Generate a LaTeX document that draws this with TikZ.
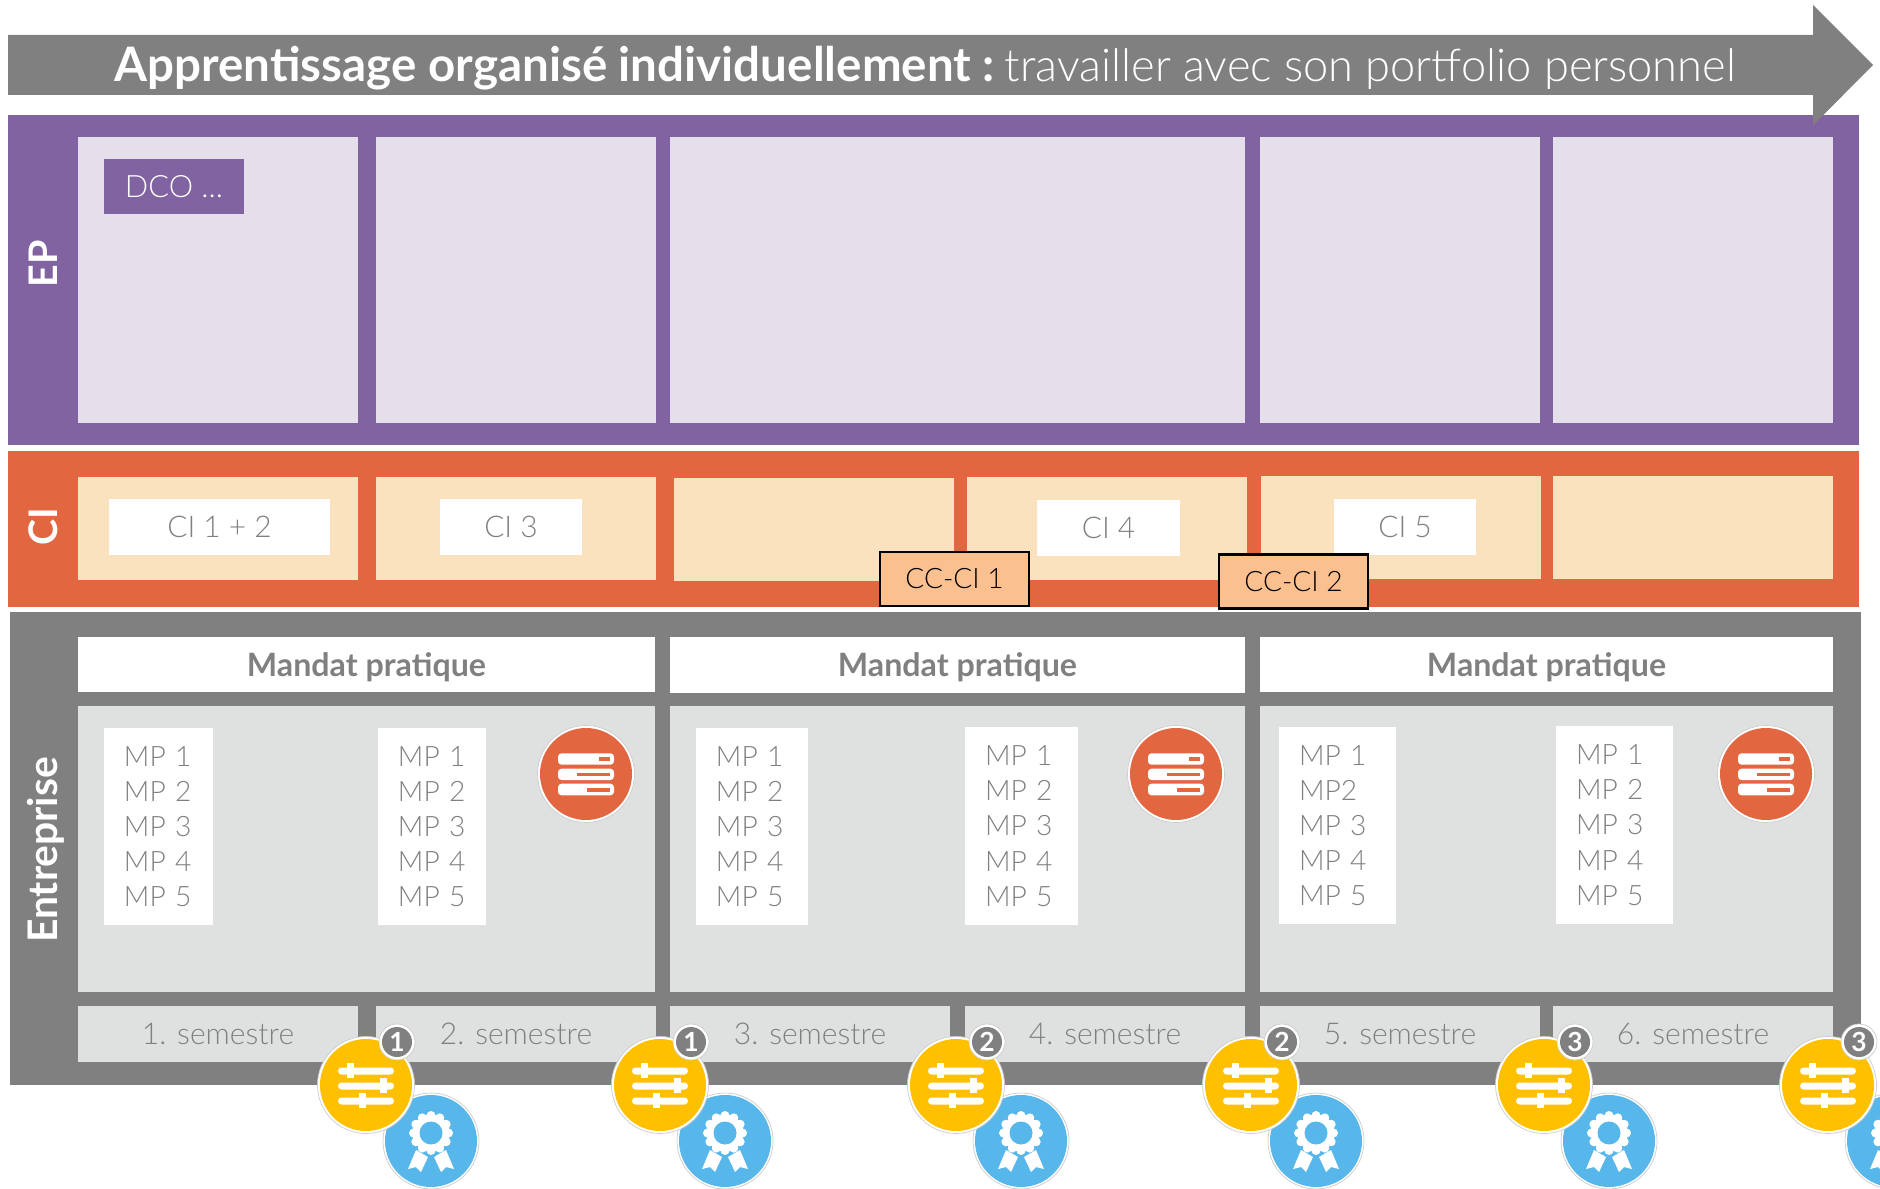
\documentclass[tikz,border=0pt]{standalone}
\usepackage{fontspec}
\setmainfont{Lato}[UprightFont={* Light},BoldFont={* Bold}]
\definecolor{greyband}{HTML}{808080}
\definecolor{greycell}{HTML}{DFE1E1}
\definecolor{purpleband}{HTML}{8063A0}
\definecolor{purplecell}{HTML}{E5DFEC}
\definecolor{orangeband}{HTML}{E26740}
\definecolor{orangecell}{HTML}{FAE2BF}
\definecolor{cccell}{HTML}{FBC08F}
\definecolor{yellowdisc}{HTML}{FFC000}
\definecolor{bluedisc}{HTML}{58B7EA}
\tikzset{
    boxlabel/.style={inner sep=0pt, text=greyband, font=\fontsize{8}{10}\selectfont},
    cilabel/.style={boxlabel, fill=white, minimum height=0.55cm, font=\fontsize{8.5}{10}\selectfont, text depth=0pt},
    mplist/.style={boxlabel, fill=white, align=left, inner xsep=0.2cm, minimum height=1.97cm},
    mandat/.style={boxlabel, fill=white, minimum height=0.55cm, text depth=0pt, font=\fontsize{9.15}{10}\selectfont\bfseries},
    semestre/.style={boxlabel, fill=greycell, minimum width=2.8cm, minimum height=0.56cm, font=\fontsize{8.55}{10}\selectfont},
    cclabel/.style={draw=black, line width=0.6pt, fill=cccell, inner sep=0pt, minimum width=1.49cm, minimum height=0.54cm, font=\fontsize{8}{10}\selectfont},
    bandlabel/.style={inner sep=0pt, text=white, rotate=90, font=\fontsize{11.2}{12}\selectfont\bfseries},
    ring/.style={draw=black!20, line width=0.2pt, fill=white}
}
\begin{document}
\begin{tikzpicture}[x=0.01cm, y=-0.01cm]
    \useasboundingbox (0,0) rectangle (1880,1189);

    % arrow
    \fill[greyband] (8,35) -- (1813,35) -- (1813,5) -- (1873,65) -- (1813,125) -- (1813,95) -- (8,95) -- cycle;

    % bands
    \fill[purpleband] (8,115) rectangle (1859,445);
    \fill[orangeband] (8,451) rectangle (1859,607);
    \fill[greyband] (10,612) rectangle (1861,1085);
    \fill[greyband] (1813,95) -- (1813,125) -- (1843,95) -- cycle;

    \node[anchor=west, inner sep=0pt, text=white] (title) at (114,68)
        {\fontsize{13.5}{14}\selectfont\textbf{Apprentissage organisé individuellement :} \hspace{-0.07cm}\fontsize{12.85}{14}\selectfont travailler avec son portfolio personnel};

    \node[bandlabel] (ep) at (43,264) {EP};
    \node[bandlabel] (ci) at (43,527) {CI};
    \node[bandlabel, font=\fontsize{11.6}{12}\selectfont\bfseries] (entreprise) at (46,850) {Entreprise};

    % EP
    \fill[purplecell] (78,137) rectangle (358,423);
    \fill[purplecell] (376,137) rectangle (656,423);
    \fill[purplecell] (670,137) rectangle (1245,423);
    \fill[purplecell] (1260,137) rectangle (1540,423);
    \fill[purplecell] (1553,137) rectangle (1833,423);
    \node[fill=purpleband, inner sep=0pt, text=white, minimum width=1.4cm, minimum height=0.55cm, font=\fontsize{8.75}{10}\selectfont] (dco) at (174,186.5) {DCO ...};

    % CI
    \fill[orangecell] (78,477) rectangle (358,580);
    \fill[orangecell] (376,477) rectangle (656,580);
    \fill[orangecell] (674,478) rectangle (954,581);
    \fill[orangecell] (967,477) rectangle (1247,580);
    \fill[orangecell] (1261,476) rectangle (1541,579);
    \fill[orangecell] (1553,476) rectangle (1833,579);
    \node[cilabel, minimum width=2.21cm] (cia) at (219.5,527) {CI 1 + 2};
    \node[cilabel, minimum width=1.42cm] (cib) at (511,527) {CI 3};
    \node[cilabel, minimum width=1.43cm] (cic) at (1108.5,528) {CI 4};
    \node[cilabel, minimum width=1.41cm] (cid) at (1405,527) {CI 5};
    \node[cclabel] (cca) at (954.5,579) {CC-CI 1};
    \node[cclabel] (ccb) at (1293.5,581.5) {CC-CI 2};

    % Entreprise
    \fill[greycell] (78,706) rectangle (655,992);
    \fill[greycell] (670,706) rectangle (1245,992);
    \fill[greycell] (1260,706) rectangle (1833,992);
    \node[mandat, minimum width=5.77cm] (manda) at (366.5,664.5) {Mandat pratique};
    \node[mandat, minimum width=5.75cm] (mandb) at (957.5,665) {Mandat pratique};
    \node[mandat, minimum width=5.73cm] (mandc) at (1546.5,664.5) {Mandat pratique};

    \node[mplist, text width=0.69cm] (mpa) at (158.5,826.5) {MP 1\\MP 2\\MP 3\\MP 4\\MP 5};
    \node[mplist, text width=0.68cm] (mpb) at (432,826.5) {MP 1\\MP 2\\MP 3\\MP 4\\MP 5};
    \node[mplist, text width=0.72cm] (mpc) at (752,826.5) {MP 1\\MP 2\\MP 3\\MP 4\\MP 5};
    \node[mplist, text width=0.73cm] (mpd) at (1021.5,826) {MP 1\\MP 2\\MP 3\\MP 4\\MP 5};
    \node[mplist, text width=0.77cm] (mpe) at (1337.5,825.5) {MP 1\\MP2\\MP 3\\MP 4\\MP 5};
    \node[mplist, text width=0.77cm] (mpf) at (1614.5,825) {MP 1\\MP 2\\MP 3\\MP 4\\MP 5};

    \node[semestre] (sema) at (218,1034) {1. semestre};
    \node[semestre] (semb) at (516,1034) {2. semestre};
    \node[semestre] (semc) at (810,1034) {3. semestre};
    \node[semestre] (semd) at (1105,1034) {4. semestre};
    \node[semestre] (seme) at (1400,1034) {5. semestre};
    \node[semestre] (semf) at (1693,1034) {6. semestre};

    % orange discs
    \foreach \x in {586,1176,1766} {
        \begin{scope}[shift={(\x,774)}]
            \draw[ring] (0,0) circle (48.5);
            \fill[orangeband] (0,0) circle (46);
            \fill[white, rounded corners=1] (-28,-20.7) rectangle (28,-9.3);
            \fill[white, rounded corners=1] (-28,-5.3) rectangle (28,6);
            \fill[white, rounded corners=1] (-28,9.7) rectangle (28,21.3);
            \fill[orangeband] (12.7,-16.7) rectangle (23.7,-12.7);
            \fill[orangeband] (-9,-1.3) rectangle (23.7,2.3);
            \fill[orangeband] (1,13.7) rectangle (23.7,17.7);
        \end{scope}
    }

    % yellow and blue discs
    \foreach \x/\n in {366/1,660/1,956/2,1251/2,1544/3,1828/3} {
        \begin{scope}[shift={(\x,1085)}]
            % rosette
            \begin{scope}[shift={(65,56)}]
                \draw[ring] (0,0) circle (48);
                \fill[bluedisc] (0,0) circle (46);
                \fill[white] (-15,9) -- (-3,16) -- (-10,31) -- (-15,26) -- (-23,28) -- cycle;
                \fill[white] (15,9) -- (3,16) -- (10,31) -- (15,26) -- (23,28) -- cycle;
                \fill[white] (0,-8) circle (18.5);
                \foreach \a in {0,30,...,330} {
                    \fill[white] (0,-8) ++(\a:17.5) circle (4.5);
                }
                \fill[bluedisc] (0,-8) circle (11.5);
            \end{scope}
            % sliders
            \draw[ring] (0,0) circle (48.5);
            \fill[yellowdisc] (0,0) circle (46);
            \fill[white, rounded corners=1] (-28,-17.5) rectangle (28,-10.5);
            \fill[white, rounded corners=1] (-28,-2.5) rectangle (28,4.5);
            \fill[white, rounded corners=1] (-28,12.5) rectangle (28,19.5);
            \fill[white] (-19.5,-22) rectangle (-12.5,-7);
            \fill[white] (13.5,-7) rectangle (20.5,8);
            \fill[white] (-7,8) rectangle (0,23);
            % number
            \draw[ring] (31,-43) circle (18);
            \fill[greyband] (31,-43) circle (15);
            \node[inner sep=0pt, text=white, font=\fontsize{7.5}{8}\selectfont\bfseries] (num\x) at (31,-43) {\n};
        \end{scope}
    }
\end{tikzpicture}
\end{document}
